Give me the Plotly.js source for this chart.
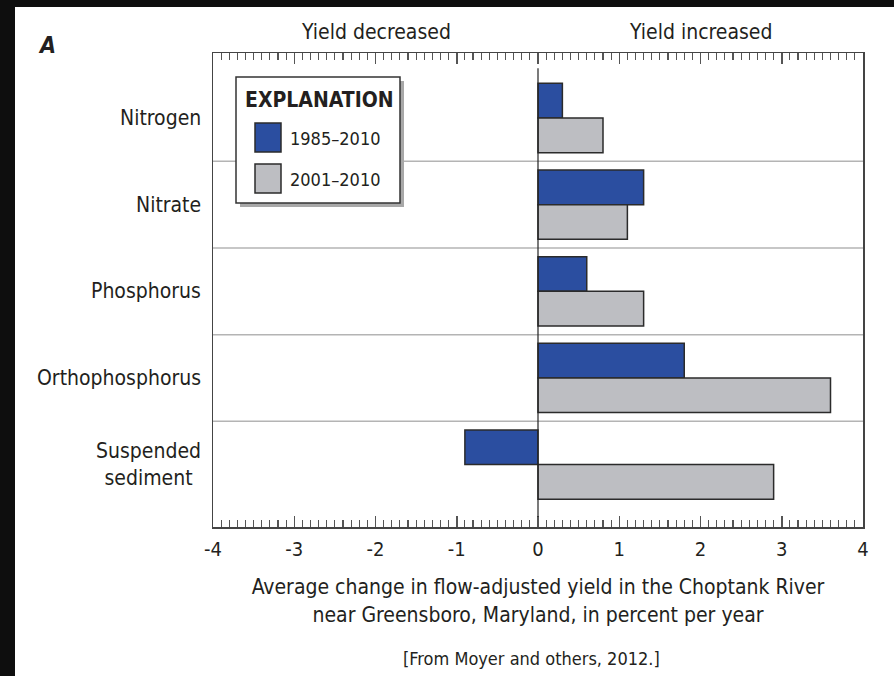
<!DOCTYPE html>
<html>
<head>
<meta charset="utf-8">
<script src="https://cdn.plot.ly/plotly-3.0.1.min.js"></script>
<style>
  html, body { margin:0; padding:0; background:#0e0e0e; }
  #panel { position:absolute; left:15px; top:7px; width:879px; height:669px; background:#ffffff; }
  #chart { position:absolute; left:0; top:0; width:894px; height:676px; }
</style>
</head>
<body>
<div id="panel"></div>
<div id="chart"></div>
<script>
// ---- data ----
const categories = ['Nitrogen', 'Nitrate', 'Phosphorus', 'Orthophosphorus', 'Suspended<br>sediment'];
const seriesNames = ['1985–2010', '2001–2010'];
const values1985 = [0.3, 1.3, 0.6, 1.8, -0.9];
const values2001 = [0.8, 1.1, 1.3, 3.6, 2.9];
const xTickVals = [-4, -3, -2, -1, 0, 1, 2, 3, 4];
const xTickText = ['-4', '-3', '-2', '-1', '0', '1', '2', '3', '4'];

// ---- style ----
const FONT = '"Liberation Sans Narrow", "DejaVu Sans Condensed", "Roboto Condensed", "Arial Narrow", "Liberation Sans", sans-serif';
const TXT = '#231f20';
const BLUE = '#2b4ea0';
const GRAY = '#bdbec2';
const EDGE = '#2b2b2b';

const W = 894, H = 676;
const M = {l: 213, r: 31, t: 53, b: 149};
const PW = W - M.l - M.r, PH = H - M.t - M.b;
const px = x => (x - M.l) / PW;
const py = y => (H - M.b - y) / PH;

const traces = [
  {type: 'bar', orientation: 'h', name: seriesNames[0], y: categories, x: values1985,
   marker: {color: BLUE, line: {color: EDGE, width: 1.5}}, showlegend: false, hoverinfo: 'x+name'},
  {type: 'bar', orientation: 'h', name: seriesNames[1], y: categories, x: values2001,
   marker: {color: GRAY, line: {color: EDGE, width: 1.5}}, showlegend: false, hoverinfo: 'x+name'}
];

const shapes = [];
// category separators
for (let i = 0; i < categories.length - 1; i++) {
  shapes.push({type: 'line', xref: 'paper', yref: 'y', x0: 0, x1: 1, y0: i + 0.5, y1: i + 0.5,
               line: {color: '#b4b4b4', width: 1.5}, layer: 'below'});
}
// zero line
shapes.push({type: 'line', xref: 'x', yref: 'paper', x0: 0, x1: 0, y0: 0.021, y1: 0.968,
             line: {color: '#222', width: 1.2}, layer: 'above'});
// legend shadow + box
shapes.push({type: 'rect', xref: 'paper', yref: 'paper', x0: px(240), x1: px(404), y0: py(207), y1: py(81),
             fillcolor: '#a8a8a8', line: {width: 0}, layer: 'above'});
shapes.push({type: 'rect', xref: 'paper', yref: 'paper', x0: px(236), x1: px(400), y0: py(203), y1: py(77),
             fillcolor: '#ffffff', line: {color: '#333', width: 1.5}, layer: 'above'});
// legend swatches
shapes.push({type: 'rect', xref: 'paper', yref: 'paper', x0: px(255), x1: px(281), y0: py(152), y1: py(123),
             fillcolor: BLUE, line: {color: EDGE, width: 1.5}, layer: 'above'});
shapes.push({type: 'rect', xref: 'paper', yref: 'paper', x0: px(255), x1: px(281), y0: py(193), y1: py(164),
             fillcolor: GRAY, line: {color: EDGE, width: 1.5}, layer: 'above'});

const annotations = [];
categories.forEach((c, i) => {
  annotations.push({xref: 'paper', yref: 'y', x: px(203), y: c, text: c, showarrow: false,
                    xanchor: 'right', yanchor: 'middle', align: 'center',
                    font: {family: FONT, size: 21, color: TXT}});
});
annotations.push({xref: 'x', yref: 'paper', x: -2, y: py(32), text: 'Yield decreased', showarrow: false,
                  xanchor: 'center', yanchor: 'middle', font: {family: FONT, size: 21, color: TXT}});
annotations.push({xref: 'x', yref: 'paper', x: 2, y: py(32), text: 'Yield increased', showarrow: false,
                  xanchor: 'center', yanchor: 'middle', font: {family: FONT, size: 21, color: TXT}});
annotations.push({xref: 'paper', yref: 'paper', x: px(36), y: py(45), text: '<b><i>A</i></b>', showarrow: false,
                  xanchor: 'left', yanchor: 'middle', font: {family: FONT, size: 23, color: TXT}});
annotations.push({xref: 'paper', yref: 'paper', x: px(243), y: py(100), text: '<b>EXPLANATION</b>', showarrow: false,
                  xanchor: 'left', yanchor: 'middle', font: {family: FONT, size: 21, color: TXT}});
annotations.push({xref: 'paper', yref: 'paper', x: px(288), y: py(138), text: seriesNames[0], showarrow: false,
                  xanchor: 'left', yanchor: 'middle', font: {family: FONT, size: 18, color: TXT}});
annotations.push({xref: 'paper', yref: 'paper', x: px(288), y: py(179), text: seriesNames[1], showarrow: false,
                  xanchor: 'left', yanchor: 'middle', font: {family: FONT, size: 18, color: TXT}});
annotations.push({xref: 'paper', yref: 'paper', x: px(531), y: py(658), text: '[From Moyer and others, 2012.]', showarrow: false,
                  xanchor: 'center', yanchor: 'middle', font: {family: FONT, size: 18, color: TXT}});

const layout = {
  width: W, height: H,
  margin: M,
  paper_bgcolor: 'rgba(0,0,0,0)',
  plot_bgcolor: '#ffffff',
  barmode: 'group', bargap: 0.2, bargroupgap: 0,
  showlegend: false,
  font: {family: FONT, color: TXT},
  xaxis: {
    range: [-4, 4], tickvals: xTickVals, ticktext: xTickText,
    ticks: 'inside', ticklen: 11, tickwidth: 1.5, tickcolor: '#555',
    minor: {dtick: 0.1, ticks: 'inside', ticklen: 7, tickwidth: 1.2, tickcolor: '#555'},
    showline: true, linecolor: '#444', linewidth: 1.5, mirror: 'ticks',
    showgrid: false, zeroline: false, ticklabelstandoff: 3,
    tickfont: {family: FONT, size: 20, color: TXT},
    title: {text: 'Average change in flow-adjusted yield in the Choptank River<br>near Greensboro, Maryland, in percent per year',
            font: {family: FONT, size: 21, color: TXT}, standoff: 20}
  },
  yaxis: {
    type: 'category', range: [4.72, -0.75],
    showticklabels: false, ticks: '',
    showline: true, linecolor: '#444', linewidth: 1.5, mirror: true,
    showgrid: false, zeroline: false
  },
  shapes: shapes,
  annotations: annotations
};

Plotly.newPlot('chart', traces, layout, {displayModeBar: false, staticPlot: true});
</script>
</body>
</html>
